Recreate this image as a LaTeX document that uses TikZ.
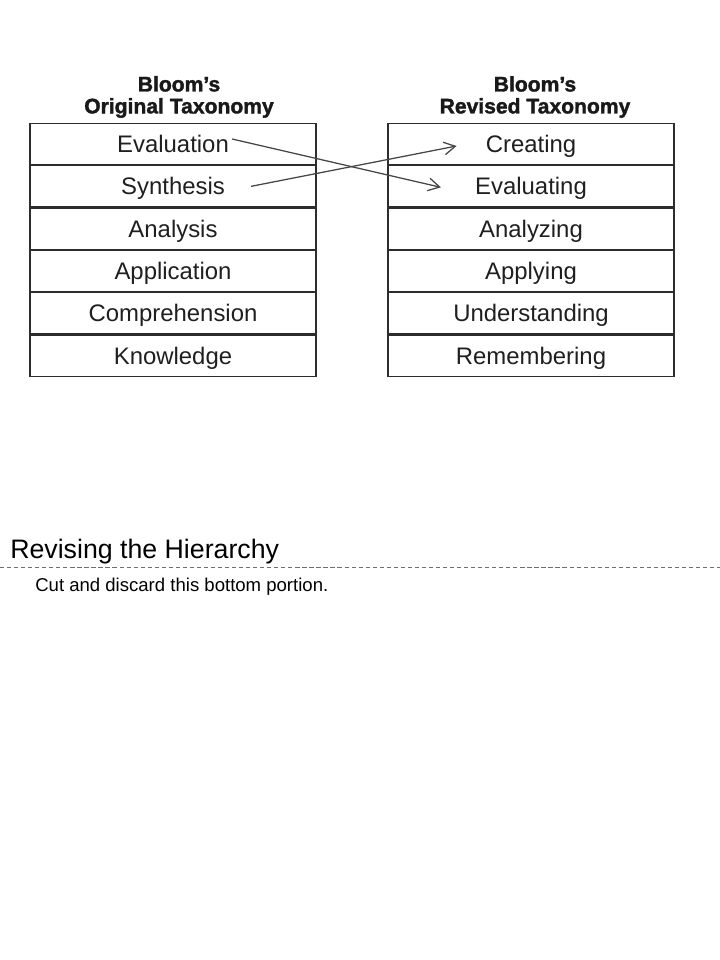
\documentclass[tikz,border=0pt]{standalone}
\usepackage{fontspec}
\setmainfont{Liberation Sans}
\newfontfamily\headfont[FakeBold=1.6]{Liberation Sans Bold}
\usepackage{tikz}
\usetikzlibrary{positioning,calc}
\usetikzlibrary{arrows.meta}
\definecolor{BoxGray}{RGB}{45,45,45}
\definecolor{LinkGray}{RGB}{70,70,70}
\definecolor{CutGray}{RGB}{110,110,110}
\tikzset{
  rowbox/.style={draw=BoxGray,line width=0.8pt,minimum width=7.15cm,minimum height=1.03cm,inner sep=0pt},
  rowtext/.style={inner sep=0pt,text=black!88,font=\fontsize{17}{20}\selectfont,text height=12.2pt,text depth=0pt},
  heading/.style={inner sep=0pt,align=center,text=black!90,font=\headfont\fontsize{15}{15.6}\selectfont},
  link/.style={draw=LinkGray,line width=0.9pt,-{Straight Barb[length=8pt,width=9pt]}},
  cutline/.style={draw=CutGray,line width=0.6pt,dash pattern=on 3pt off 2pt},
}

\begin{document}
\begin{tikzpicture}[x=0.025cm,y=-0.025cm]
\useasboundingbox (0,0) rectangle (720,960);
% original taxonomy
\node[heading] (horig) at (179,97) {Bloom’s\\Original Taxonomy};
\node[rowbox] (o1) at (173,144) {};
\node[rowbox,below=0pt of o1] (o2) {};
\node[rowbox,below=0pt of o2] (o3) {};
\node[rowbox,below=0pt of o3] (o4) {};
\node[rowbox,below=0pt of o4] (o5) {};
\node[rowbox,below=0pt of o5] (o6) {};
\node[rowtext] (o1txt) at (o1) {Evaluation};
\node[rowtext] (o2txt) at (o2) {Synthesis};
\node[rowtext] (o3txt) at (o3) {Analysis};
\node[rowtext] (o4txt) at (o4) {Application};
\node[rowtext] (o5txt) at (o5) {Comprehension};
\node[rowtext] (o6txt) at (o6) {Knowledge};
% revised taxonomy
\node[heading] (hrev) at (535,97) {Bloom’s\\Revised Taxonomy};
\node[rowbox] (r1) at (531,144) {};
\node[rowbox,below=0pt of r1] (r2) {};
\node[rowbox,below=0pt of r2] (r3) {};
\node[rowbox,below=0pt of r3] (r4) {};
\node[rowbox,below=0pt of r4] (r5) {};
\node[rowbox,below=0pt of r5] (r6) {};
\node[rowtext] (r1txt) at (r1) {Creating};
\node[rowtext] (r2txt) at (r2) {Evaluating};
\node[rowtext] (r3txt) at (r3) {Analyzing};
\node[rowtext] (r4txt) at (r4) {Applying};
\node[rowtext] (r5txt) at (r5) {Understanding};
\node[rowtext] (r6txt) at (r6) {Remembering};
% crossing arrows
\draw[link] ($(o1txt.east)+(3,-5)$) -- ($(r2txt.west)+(-34,1)$);
\draw[link] ($(o2txt.east)+(26,0)$) -- ($(r1txt.west)+(-29,2)$);
% bottom portion
\node[inner sep=0pt,anchor=base west,font=\fontsize{19}{22}\selectfont] (title) at (10,558) {Revising the Hierarchy};
\coordinate (cutl) at (0,567);
\coordinate (cutr) at (720,567);
\draw[cutline] (cutl) -- (cutr);
\node[inner sep=0pt,anchor=base west,font=\fontsize{13.2}{15}\selectfont] (note) at (35,591) {Cut and discard this bottom portion.};
\end{tikzpicture}
\end{document}
